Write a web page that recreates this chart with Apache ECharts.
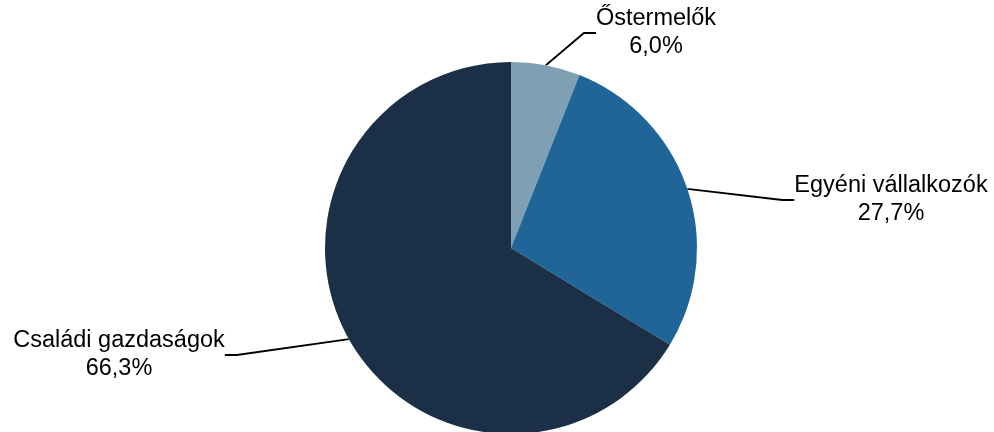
<!DOCTYPE html>
<html><head><meta charset="utf-8">
<script src="https://cdn.jsdelivr.net/npm/echarts@6/dist/echarts.min.js"></script>
<style>html,body{margin:0;padding:0;background:#fff}#c{width:994px;height:432px}</style>
</head><body><div id="c"></div>
<script>
const categories = ['Őstermelők', 'Egyéni vállalkozók', 'Családi gazdaságok'];
const shares = [6.0, 27.7, 66.3];
const colors = ['#7fa0b3', '#1f6597', '#1b3046'];
const labelPos = [[656, 33], [891, 200], [119, 355]];

const chart = echarts.init(document.getElementById('c'), null, {renderer: 'canvas'});
chart.setOption({
  animation: false,
  series: [{
    type: 'pie',
    center: [511, 248],
    radius: 186,
    startAngle: 90,
    clockwise: true,
    data: categories.map((n, i) => ({name: n, value: shares[i], itemStyle: {color: colors[i]}})),
    label: {
      show: true,
      color: '#000',
      fontFamily: 'Liberation Sans, Arial, sans-serif',
      fontSize: 23.5,
      lineHeight: 28,
      align: 'center',
      formatter: p => p.name + '\n' + p.value.toFixed(1).replace('.', ',') + '%'
    },
    labelLine: {show: true, lineStyle: {color: '#000', width: 1.8}, length: 20, length2: 12},
    labelLayout: function (params) {
      const p = labelPos[params.dataIndex];
      return {x: p[0], y: p[1], align: 'center', verticalAlign: 'middle'};
    }
  }]
});
</script></body></html>
